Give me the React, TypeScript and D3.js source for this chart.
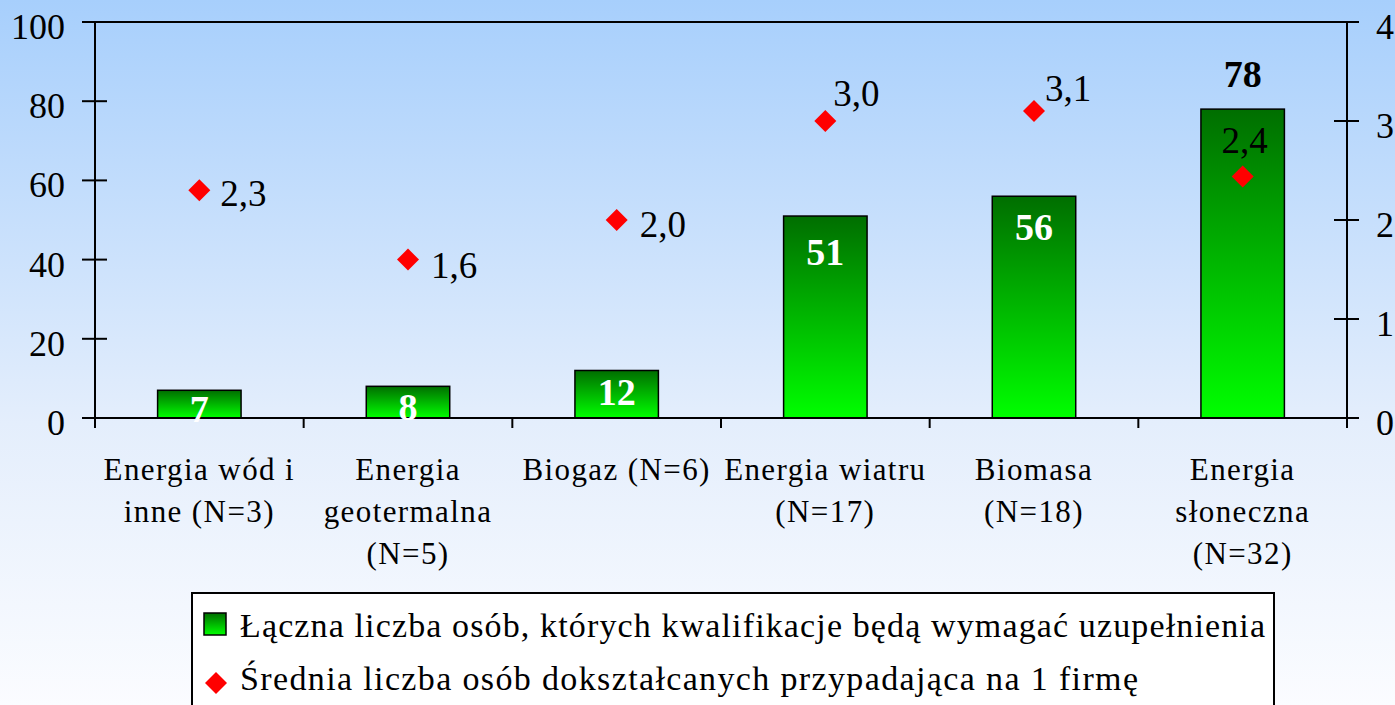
import React from 'react';
import * as d3 from 'd3';

// chart data
const categories = [
  'Energia wód i inne (N=3)',
  'Energia geotermalna (N=5)',
  'Biogaz (N=6)',
  'Energia wiatru (N=17)',
  'Biomasa (N=18)',
  'Energia słoneczna (N=32)',
];
const categoryLines = [
  ['Energia wód i', 'inne (N=3)'],
  ['Energia', 'geotermalna', '(N=5)'],
  ['Biogaz (N=6)'],
  ['Energia wiatru', '(N=17)'],
  ['Biomasa', '(N=18)'],
  ['Energia', 'słoneczna', '(N=32)'],
];
const totalPersons = [7, 8, 12, 51, 56, 78];
const avgPerFirm = [2.3, 1.6, 2.0, 3.0, 3.1, 2.44];
const leftTicks = [0, 20, 40, 60, 80, 100];
const rightTicks = [0, 1, 2, 3, 4];
const legendLabels = [
  'Łączna liczba osób, których kwalifikacje będą wymagać uzupełnienia',
  'Średnia liczba osób dokształcanych przypadająca na 1 firmę',
];

// hand-placed label offsets (as in the original)
const barLabelDy = [32, 34, 35, 49, 44, -22];
const pointLabelOffset = [
  [21, 16],
  [23, 18],
  [23, 17],
  [8, -15],
  [11, -10],
  [0, -23],
];

const W = 1395;
const H = 705;
const FONT = '"Liberation Serif", "Times New Roman", serif';

const App = () => {
  const left = 95, right = 1347, top = 22, bottom = 418;

  const x = d3.scaleBand().domain(categories).range([left, right]);
  const yL = d3.scaleLinear().domain([0, 100]).range([bottom, top]);
  const yR = d3.scaleLinear().domain([0, 4]).range([bottom, top]);
  const bw = x.bandwidth();
  const barW = bw * 0.4;
  const diamond = d3.symbol(d3.symbolSquare, 242)();
  const fmt = (v: number) => v.toFixed(1).replace('.', ',');

  return (
    <svg width={W} height={H} style={{ position: 'absolute', left: 0, top: 0 }} fontFamily={FONT}>
      <defs>
        <linearGradient id="bg" x1="0" y1="0" x2="0" y2="1">
          <stop offset="0" stopColor="#a7cffc" />
          <stop offset="0.6" stopColor="#e4eefc" />
          <stop offset="1" stopColor="#fbfcff" />
        </linearGradient>
        <linearGradient id="barFill" x1="0" y1="0" x2="0" y2="1">
          <stop offset="0" stopColor="#006e00" />
          <stop offset="1" stopColor="#00ff00" />
        </linearGradient>
      </defs>
      <rect width={W} height={H} fill="url(#bg)" />

      {/* bars */}
      {totalPersons.map((v, i) => (
        <rect
          key={'b' + i}
          x={x(categories[i])! + (bw - barW) / 2}
          y={yL(v)}
          width={barW}
          height={yL(0) - yL(v)}
          fill="url(#barFill)"
          stroke="#000"
          strokeWidth={1.5}
        />
      ))}

      {/* axes frame */}
      <g stroke="#000" strokeWidth={2} fill="none">
        <line x1={left} x2={right} y1={top} y2={top} />
        <line x1={left} x2={right} y1={bottom} y2={bottom} />
        <line x1={left} x2={left} y1={top} y2={bottom + 10} />
        <line x1={right} x2={right} y1={top} y2={bottom + 10} />
        {categories.map((c, i) => (
          <line key={'xt' + i} x1={x(c)!} x2={x(c)!} y1={bottom} y2={bottom + 10} />
        ))}
        {leftTicks.map((t) => (
          <line key={'lt' + t} x1={left - 13} x2={left + 12} y1={yL(t)} y2={yL(t)} />
        ))}
        {rightTicks.map((t) => (
          <line key={'rt' + t} x1={right - 13} x2={right + 12} y1={yR(t)} y2={yR(t)} />
        ))}
      </g>

      {/* tick labels */}
      <g fontSize={36} fill="#000">
        {leftTicks.map((t) => (
          <text key={'ll' + t} x={65} y={yL(t) + 17} textAnchor="end">{t}</text>
        ))}
        {rightTicks.map((t) => (
          <text key={'rl' + t} x={1376} y={yR(t) + 17}>{t}</text>
        ))}
      </g>

      {/* category labels */}
      <g fontSize={31} letterSpacing={1.4} fill="#000" textAnchor="middle">
        {categoryLines.map((lines, i) =>
          lines.map((ln, j) => (
            <text key={'c' + i + j} x={x(categories[i])! + bw / 2} y={480 + j * 42}>{ln}</text>
          ))
        )}
      </g>

      {/* bar value labels */}
      <g fontSize={38} fontWeight="bold" textAnchor="middle">
        {totalPersons.map((v, i) => (
          <text
            key={'bl' + i}
            x={x(categories[i])! + bw / 2}
            y={yL(v) + barLabelDy[i]}
            fill={barLabelDy[i] < 0 ? '#000' : '#fff'}
          >
            {v}
          </text>
        ))}
      </g>

      {/* average points */}
      {avgPerFirm.map((v, i) => {
        const cx = x(categories[i])! + bw / 2;
        const cy = yR(v);
        const [dx, dy] = pointLabelOffset[i];
        return (
          <g key={'p' + i}>
            <path d={diamond!} transform={`translate(${cx},${cy}) rotate(45)`} fill="#ff0000" />
            <text
              x={cx + (dx === 0 ? 2 : dx)}
              y={cy + dy}
              fontSize={37}
              textAnchor={dx === 0 ? 'middle' : 'start'}
              fill="#000"
            >
              {fmt(v)}
            </text>
          </g>
        );
      })}

      {/* legend */}
      <rect x={192} y={593} width={1082} height={130} fill="#fff" stroke="#000" strokeWidth={2} />
      <rect x={204} y={613} width={22} height={22} fill="url(#barFill)" stroke="#000" strokeWidth={1.5} />
      <path d={diamond!} transform="translate(216,683) rotate(45)" fill="#ff0000" />
      <g fontSize={34} fill="#000">
        <text x={240} y={637} textLength={1025} lengthAdjust="spacing">{legendLabels[0]}</text>
        <text x={240} y={690} textLength={898} lengthAdjust="spacing">{legendLabels[1]}</text>
      </g>
    </svg>
  );
};

export default App;
